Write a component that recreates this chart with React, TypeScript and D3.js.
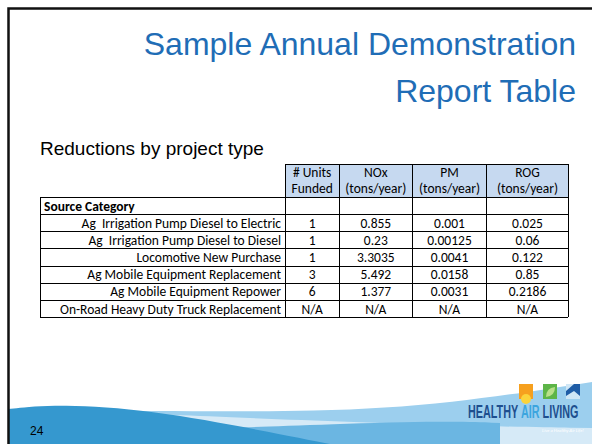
import React from "react";
import * as d3 from "d3";

const titleLines = ["Sample Annual Demonstration", "Report Table"];
const subtitle = "Reductions by project type";

const headers = [
  ["# Units", "Funded"],
  ["NOx", "(tons/year)"],
  ["PM", "(tons/year)"],
  ["ROG", "(tons/year)"],
];

const groupLabel = "Source Category";

const categories = [
  "Ag  Irrigation Pump Diesel to Electric",
  "Ag  Irrigation Pump Diesel to Diesel",
  "Locomotive New Purchase",
  "Ag Mobile Equipment Replacement",
  "Ag Mobile Equipment Repower",
  "On-Road Heavy Duty Truck Replacement",
];

const unitsFunded = [1, 1, 1, 3, 6, null];
const noxValues = [0.855, 0.23, 3.3035, 5.492, 1.377, null];
const pmValues = [0.001, 0.00125, 0.0041, 0.0158, 0.0031, null];
const rogValues = [0.025, 0.06, 0.122, 0.85, 0.2186, null];

const slideNumber = "24";

// layout
const W = 592;
const H = 444;
const colWidths = [245, 54.3, 73, 74.4, 81.6];
const tableLeft = 40;
const headerTop = 164;
const bodyTop = 197.7;
const bodyBottom = 317.3;

const tableFont = "Carlito, Lato, 'Open Sans', sans-serif";

const fmt = (v: number | null) => (v === null ? "N/A" : String(v));

export default function App() {
  const edges = [tableLeft, ...Array.from(d3.cumsum(colWidths), (c) => tableLeft + c)];
  const tableRight = edges[edges.length - 1];

  const rowIds = d3.range(categories.length + 1);
  const y = d3.scaleBand<number>().domain(rowIds).range([bodyTop, bodyBottom]);
  const baseline = (r: number) => (y(r) as number) + y.bandwidth() / 2 + 4.8;

  const columns = [unitsFunded, noxValues, pmValues, rogValues];

  const wave = d3.line().curve(d3.curveBasis);

  // decorative footer band
  const lightArea =
    wave([
      [8, 410],
      [150, 411],
      [320, 412],
      [450, 404],
      [592, 382],
    ]) + `L${W},${H}L8,${H}Z`;
  const paleArea =
    wave([
      [150, 414],
      [300, 420],
      [460, 426],
      [592, 428],
    ]) + `L${W},${H}L150,${H}Z`;
  const midArea =
    wave([
      [230, 428],
      [330, 424],
      [450, 421],
      [500, 423],
    ]) + `L500,${H}L230,${H}Z`;
  const darkArea =
    wave([
      [8, 409],
      [60, 404],
      [150, 410],
      [260, 430],
      [350, 448],
    ]) + `L8,${H}Z`;

  return (
    <svg width={W} height={H} style={{ position: "absolute", left: 0, top: 0 }}>
      <rect x={0} y={0} width={W} height={H} fill="#fff" />

      {/* footer waves */}
      <path d={lightArea} fill="#9CCFEE" />
      <path d={paleArea} fill="#D6EAF7" />
      <path d={midArea} fill="#6BB6E2" />
      <path d={darkArea} fill="#3598CF" />

      {/* slide frame */}
      <path d={`M8.5,${H} V8.5 H${W}`} fill="none" stroke="#111" strokeWidth={2.5} />

      {/* title */}
      <g fontFamily="'Liberation Sans', Arial, sans-serif" fill="#1F6DB6" fontSize={32} textAnchor="end">
        {titleLines.map((t, i) => (
          <text key={t} x={576} y={55 + i * 47}>
            {t}
          </text>
        ))}
      </g>
      <text x={40} y={155} fontFamily="'Liberation Sans', Arial, sans-serif" fontSize={19} fill="#000">
        {subtitle}
      </text>

      {/* table */}
      <rect x={edges[1]} y={headerTop} width={tableRight - edges[1]} height={bodyTop - headerTop} fill="#C6D9F0" />
      <g fontFamily={tableFont} fontSize={13.5} fill="#000">
        {headers.map((lines, c) =>
          lines.map((ln, k) => (
            <text key={`${c}-${k}`} x={(edges[c + 1] + edges[c + 2]) / 2} y={177 + k * 16} textAnchor="middle">
              {ln}
            </text>
          ))
        )}
        <text x={tableLeft + 4} y={baseline(0)} fontWeight="bold">
          {groupLabel}
        </text>
        {categories.map((cat, i) => (
          <text
            key={cat}
            x={edges[1] - 4}
            y={baseline(i + 1)}
            textAnchor="end"
            xmlSpace="preserve"
            style={{ whiteSpace: "pre" }}
          >
            {cat}
          </text>
        ))}
        {columns.map((vals, c) =>
          vals.map((v, i) => (
            <text key={`${c}-${i}`} x={(edges[c + 1] + edges[c + 2]) / 2} y={baseline(i + 1)} textAnchor="middle">
              {fmt(v)}
            </text>
          ))
        )}
      </g>
      <g stroke="#000" strokeWidth={1} shapeRendering="crispEdges">
        <line x1={edges[1]} x2={tableRight} y1={headerTop} y2={headerTop} />
        {rowIds.map((r) => (
          <line key={r} x1={tableLeft} x2={tableRight} y1={y(r)} y2={y(r)} />
        ))}
        <line x1={tableLeft} x2={tableRight} y1={bodyBottom} y2={bodyBottom} />
        <line x1={tableLeft} x2={tableLeft} y1={bodyTop} y2={bodyBottom} />
        {edges.slice(1).map((e) => (
          <line key={e} x1={e} x2={e} y1={headerTop} y2={bodyBottom} />
        ))}
      </g>

      {/* logo */}
      <g>
        <rect x={519} y={384} width={14} height={15} fill="#F6A01E" />
        <circle cx={526} cy={399} r={5} fill="#FBD33A" />
        <rect x={543} y={384} width={14} height={15} fill="#5DB548" />
        <path d="M546,397 Q546,388 555,387 Q555,396 546,397Z" fill="#B9E08A" />
        <rect x={566} y={384} width={14} height={15} fill="#CFE6F5" />
        <path d="M566,391 L574,384 L580,384 L580,396 L574,391 L566,396Z" fill="#1F5DA6" />
        <g transform="translate(468,418) scale(0.6,1)">
          <text
            x={0}
            y={0}
            fontFamily="'Liberation Sans', sans-serif"
            fontWeight="bold"
            fontSize={18}
            fill="#1E4F8E"
          >
            HEALTHY <tspan fill="#3CA5DE">AIR</tspan> LIVING
          </text>
        </g>
        <text x={542} y={432} fontFamily="Lato, sans-serif" fontStyle="italic" fontSize={4.5} fill="#fff">
          Live a Healthy Air Life!
        </text>
      </g>

      <text x={30} y={435} fontFamily="'Liberation Sans', Arial, sans-serif" fontSize={12} fill="#000">
        {slideNumber}
      </text>
    </svg>
  );
}
